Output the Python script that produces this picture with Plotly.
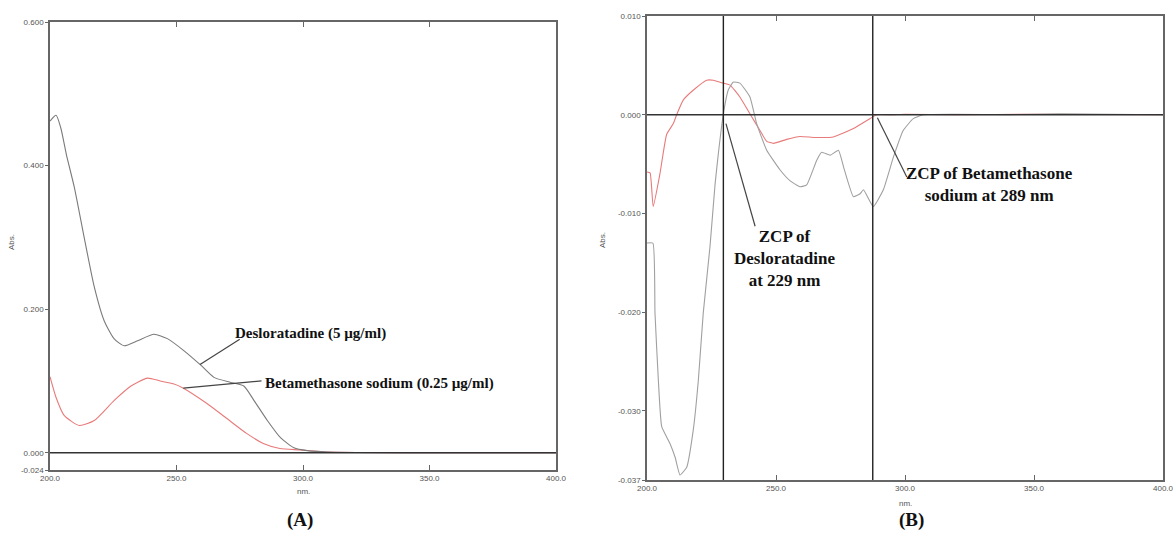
import plotly.graph_objects as go

# ---------------- Panel A: zero-order spectra ----------------
wl_a_deslo = [200.0, 202.4, 204.3, 206.5, 209.6, 213.5, 217.5, 221.4, 225.3, 229.3, 234.6, 241.1,
              246.4, 253.0, 259.6, 264.8, 271.4, 276.6, 280.6, 285.9, 291.1, 296.4, 301.7, 310.0,
              350.0, 400.0]
abs_a_deslo = [0.462, 0.470, 0.452, 0.415, 0.370, 0.300, 0.231, 0.184, 0.159, 0.149, 0.156, 0.165,
               0.159, 0.142, 0.122, 0.105, 0.098, 0.093, 0.073, 0.045, 0.021, 0.007, 0.003, 0.001,
               0.0, 0.0]

wl_a_beta = [200.0, 202.4, 205.6, 211.6, 217.5, 225.4, 232.0, 238.5, 243.5, 248.7, 252.7, 261.9,
             269.8, 277.7, 284.3, 290.9, 298.8, 310.0, 350.0, 400.0]
abs_a_beta = [0.106, 0.077, 0.052, 0.038, 0.045, 0.073, 0.093, 0.104, 0.100, 0.096, 0.090, 0.069,
              0.048, 0.027, 0.013, 0.006, 0.004, 0.001, 0.0, 0.0]

# ---------------- Panel B: first-derivative spectra (x 1e-3) ----------------
wl_b_deslo = [200.0, 202.3, 203.1, 204.4, 205.7, 208.9, 210.9, 212.8, 215.4, 217.9, 219.9, 221.8,
              224.4, 226.4, 227.8, 229.6, 231.5, 233.4, 236.0, 239.9, 242.5, 246.4, 251.6, 255.5,
              259.3, 261.9, 265.8, 267.7, 271.0, 274.2, 276.2, 280.0, 282.6, 283.9, 287.7, 291.6,
              295.5, 299.3, 303.2, 307.1, 320.0, 340.0, 360.0, 400.0]
d1_b_deslo_milli = [-13.0, -13.0, -20.1, -26.9, -31.6, -33.3, -34.7, -36.5, -35.7, -32.0, -26.9, -20.1,
                    -13.4, -7.0, -3.6, 0.1, 2.5, 3.3, 3.2, 1.8, -0.9, -3.6, -5.6, -6.7,
                    -7.3, -7.1, -4.6, -3.8, -4.1, -3.6, -5.3, -8.3, -8.0, -7.6, -9.3, -7.6,
                    -4.3, -1.6, -0.4, 0.0, 0.05, 0.0, 0.1, 0.0]

wl_b_beta = [200.0, 201.2, 202.4, 205.0, 207.6, 210.2, 211.5, 214.1, 218.0, 223.1, 225.7, 229.6,
             232.2, 236.0, 239.9, 243.8, 246.4, 249.0, 254.1, 259.3, 265.0, 272.2, 280.0, 286.4,
             289.0, 295.0, 300.0, 320.0, 350.0, 400.0]
d1_b_beta_milli = [-5.8, -5.9, -9.3, -6.0, -2.0, -0.9, 0.0, 1.5, 2.5, 3.5, 3.5, 3.2,
                   3.0, 1.8, 0.1, -1.6, -2.7, -2.9, -2.5, -2.2, -2.3, -2.25, -1.4, -0.4,
                   0.0, 0.0, 0.05, 0.0, 0.05, 0.0]

zcp_wavelengths = [229.6, 287.5]

x_ticks = [200, 250, 300, 350, 400]
x_ticktext = ["200.0", "250.0", "300.0", "350.0", "400.0"]
ya_ticks = [0.6, 0.4, 0.2, 0.0, -0.024]
ya_ticktext = ["0.600", "0.400", "0.200", "0.000", "-0.024"]
yb_ticks = [0.010, 0.0, -0.010, -0.020, -0.030, -0.037]
yb_ticktext = ["0.010", "0.000", "-0.010", "-0.020", "-0.030", "-0.037"]

d1_b_deslo = [v / 1000 for v in d1_b_deslo_milli]
d1_b_beta = [v / 1000 for v in d1_b_beta_milli]

W, H = 1173, 543
GREY = "#7a7a7a"
RED = "#e87a7a"

fig = go.Figure()
fig.add_trace(go.Scatter(x=wl_a_beta, y=abs_a_beta, mode="lines",
                         line=dict(color=RED, width=1.1, shape="spline", smoothing=0.6),
                         xaxis="x", yaxis="y", showlegend=False))
fig.add_trace(go.Scatter(x=wl_a_deslo, y=abs_a_deslo, mode="lines",
                         line=dict(color=GREY, width=1.1, shape="spline", smoothing=0.6),
                         xaxis="x", yaxis="y", showlegend=False))
fig.add_trace(go.Scatter(x=wl_b_beta, y=d1_b_beta, mode="lines",
                         line=dict(color=RED, width=1.1, shape="spline", smoothing=0.4),
                         xaxis="x2", yaxis="y2", showlegend=False))
fig.add_trace(go.Scatter(x=wl_b_deslo, y=d1_b_deslo, mode="lines",
                         line=dict(color="#a0a0a0", width=1.1, shape="spline", smoothing=0.4),
                         xaxis="x2", yaxis="y2", showlegend=False))

tickfont = dict(family="Liberation Sans, Arial", size=8, color="#555")
axis_common = dict(showgrid=False, zeroline=False, showline=True, linecolor="#666", linewidth=1.5,
                   tickfont=tickfont, tickcolor="#666", fixedrange=True, automargin=False,
                   ticklabeloverflow="allow")

fig.update_layout(
    template="none",
    width=W, height=H, margin=dict(l=0, r=0, t=0, b=0, pad=0),
    paper_bgcolor="white", plot_bgcolor="white",
    xaxis=dict(domain=[50 / W, 556 / W], range=[200, 400], anchor="y",
               tickvals=x_ticks, ticktext=x_ticktext, ticks="inside", ticklen=5,
               mirror="ticks", **axis_common),
    yaxis=dict(domain=[1 - 470 / H, 1 - 22 / H], range=[-0.024, 0.6], anchor="x",
               tickvals=ya_ticks, ticktext=ya_ticktext, ticks="outside", ticklen=3,
               mirror=True, **axis_common),
    xaxis2=dict(domain=[647 / W, 1163 / W], range=[200, 400], anchor="y2",
                tickvals=x_ticks, ticktext=x_ticktext, ticks="inside", ticklen=5,
                mirror="ticks", **axis_common),
    yaxis2=dict(domain=[1 - 480 / H, 1 - 16 / H], range=[-0.037, 0.010], anchor="x2",
                tickvals=yb_ticks, ticktext=yb_ticktext, ticks="outside", ticklen=3,
                mirror=True, **axis_common),
)

shapes = []
# zero lines
shapes.append(dict(type="line", xref="x domain", yref="y", x0=0, x1=1, y0=0, y1=0,
                   line=dict(color="#333", width=1.5)))
shapes.append(dict(type="line", xref="x2 domain", yref="y2", x0=0, x1=1, y0=0, y1=0,
                   line=dict(color="#333", width=1.5)))
# zero-crossing vertical lines
for zc in zcp_wavelengths:
    shapes.append(dict(type="line", xref="x2", yref="y2 domain", x0=zc, x1=zc, y0=0, y1=1,
                       line=dict(color="#222", width=1.4)))
# leader lines
leader = dict(color="#444", width=1.2)
shapes.append(dict(type="line", xref="x", yref="y", x0=259.3, y0=0.123, x1=275.0, y1=0.158, line=leader))
shapes.append(dict(type="line", xref="x", yref="y", x0=252.7, y0=0.090, x1=283.6, y1=0.100, line=leader))
shapes.append(dict(type="line", xref="x2", yref="y2", x0=230.6, y0=-0.0009, x1=241.9, y1=-0.0113, line=leader))
shapes.append(dict(type="line", xref="x2", yref="y2", x0=289.3, y0=-0.0003, x1=300.7, y1=-0.0063, line=leader))
fig.update_layout(shapes=shapes)

serif = "Liberation Serif, Times New Roman, serif"
ann = []
ann.append(dict(xref="x", yref="y", x=272.3, y=0.166, xanchor="left", yanchor="middle",
                text="<b>Desloratadine (5 µg/ml)</b>", showarrow=False,
                font=dict(family=serif, size=15, color="#111")))
ann.append(dict(xref="x", yref="y", x=284.3, y=0.097, xanchor="left", yanchor="middle",
                text="<b>Betamethasone sodium (0.25 µg/ml)</b>", showarrow=False,
                font=dict(family=serif, size=15, color="#111")))
ann.append(dict(xref="x2", yref="y2", x=253.5, y=-0.0146, xanchor="center", yanchor="middle",
                text="<b>ZCP of<br>Desloratadine<br>at 229 nm</b>", showarrow=False,
                font=dict(family=serif, size=17, color="#111")))
ann.append(dict(xref="x2", yref="y2", x=332.9, y=-0.0071, xanchor="center", yanchor="middle",
                text="<b>ZCP of Betamethasone<br>sodium at 289 nm</b>", showarrow=False,
                font=dict(family=serif, size=17, color="#111")))
# panel labels
ann.append(dict(xref="paper", yref="paper", x=300 / W, y=1 - 520 / H, xanchor="center", yanchor="middle",
                text="<b>(A)</b>", showarrow=False, font=dict(family=serif, size=19, color="#111")))
ann.append(dict(xref="paper", yref="paper", x=912 / W, y=1 - 520 / H, xanchor="center", yanchor="middle",
                text="<b>(B)</b>", showarrow=False, font=dict(family=serif, size=19, color="#111")))
# axis captions
small = dict(family="Liberation Sans, Arial", size=8, color="#555")
ann.append(dict(xref="paper", yref="paper", x=12 / W, y=1 - 242 / H, xanchor="center", yanchor="middle",
                text="Abs.", textangle=-90, showarrow=False, font=small))
ann.append(dict(xref="paper", yref="paper", x=602 / W, y=1 - 240 / H, xanchor="center", yanchor="middle",
                text="Abs.", textangle=-90, showarrow=False, font=small))
ann.append(dict(xref="paper", yref="paper", x=303 / W, y=1 - 491 / H, xanchor="center", yanchor="middle",
                text="nm.", showarrow=False, font=small))
ann.append(dict(xref="paper", yref="paper", x=905 / W, y=1 - 503 / H, xanchor="center", yanchor="middle",
                text="nm.", showarrow=False, font=small))
fig.update_layout(annotations=ann)

fig.write_html("out.html", config={"displayModeBar": False},
               post_script="document.body.style.margin='0';document.body.style.overflow='hidden';")
